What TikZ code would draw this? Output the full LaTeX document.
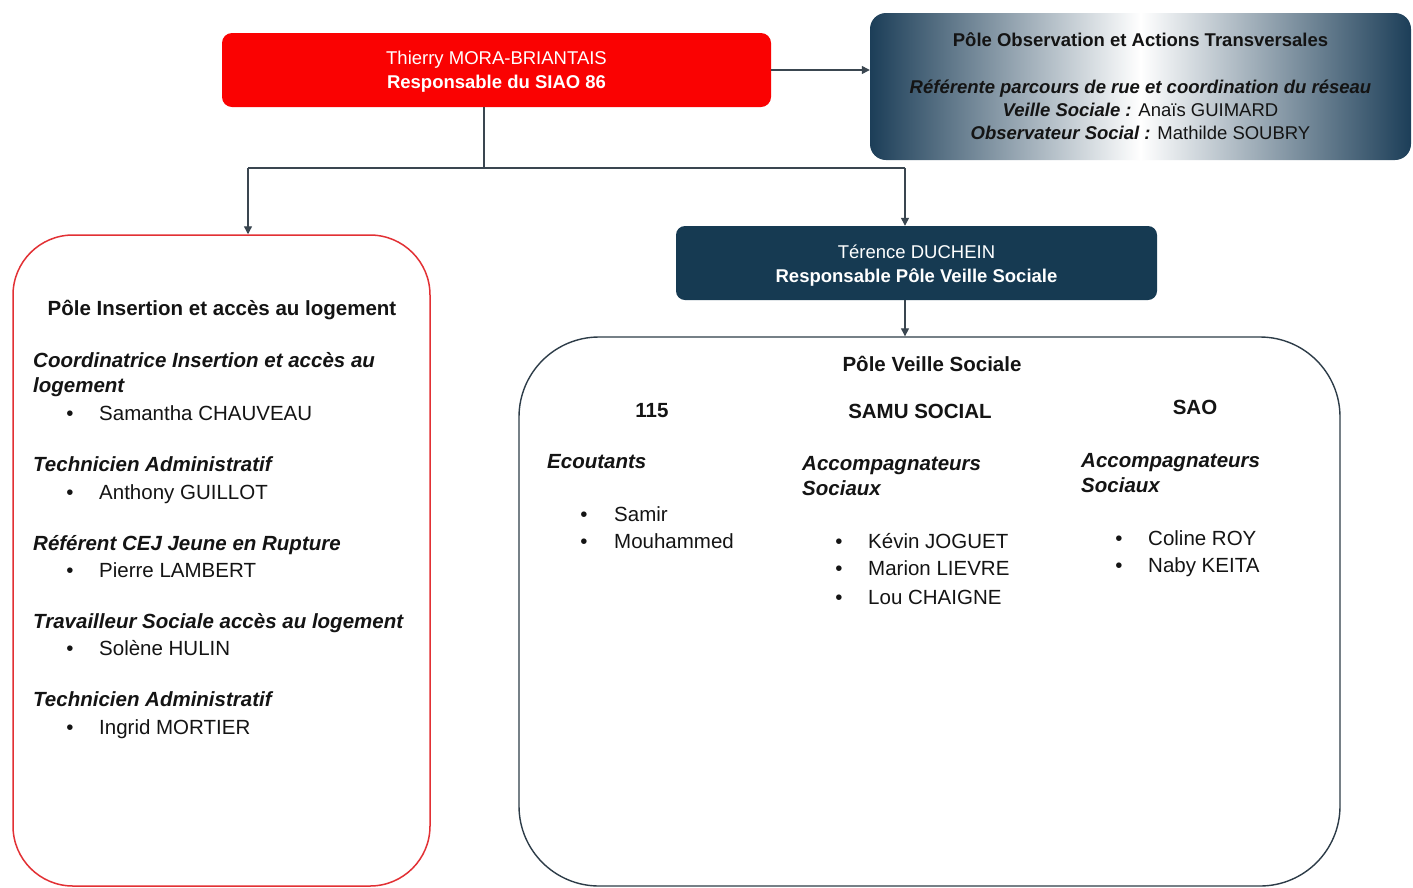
\documentclass[tikz,border=0pt]{standalone}
\usepackage{fontspec}
\setmainfont{Liberation Sans}
\usetikzlibrary{arrows.meta}
\definecolor{siaored}{RGB}{250,2,2}
\definecolor{navy}{RGB}{22,58,82}
\definecolor{gradnavy}{RGB}{28,62,88}
\definecolor{conn}{RGB}{58,70,80}
\definecolor{ink}{RGB}{20,20,20}
\definecolor{boxred}{RGB}{226,48,52}
\definecolor{boxgray}{RGB}{45,60,72}
\tikzset{
  conline/.style={draw=conn, line width=1.3pt},
  conarrow/.style={conline, -{Triangle[length=8pt,width=8pt]}},
  headbox/.style={rounded corners=10pt, inner sep=0pt, align=center, text=white,
    font=\fontsize{18.5}{24}\selectfont},
  txt/.style={inner sep=0pt, text=ink, font=\fontsize{20.5}{26}\selectfont},
  lbl/.style={txt, anchor=base west, font=\fontsize{20.5}{26}\selectfont\bfseries\itshape},
  ttl/.style={txt, anchor=base, font=\fontsize{20.5}{26}\selectfont\bfseries},
  nm/.style={txt, anchor=base west},
  bul/.style={txt, anchor=base}
}
\begin{document}
\begin{tikzpicture}[x=1pt,y=-1pt]
\useasboundingbox[fill=white] (0,0) rectangle (1413,887);

% top boxes
\node[headbox, fill=siaored, minimum width=549pt, minimum height=74pt] (chef) at (496.5,70)
  {\rule{0pt}{17.5pt}Thierry MORA-BRIANTAIS\\\bfseries Responsable du SIAO 86};
\node[rounded corners=16pt, inner sep=0pt, align=center, text=ink,
  left color=gradnavy, right color=gradnavy, middle color=white,
  minimum width=541pt, minimum height=147pt,
  font=\fontsize{18.5}{23.3}\selectfont] (obs) at (1140.5,86.5)
  {\bfseries P\^ole Observation et Actions Transversales\\[23.3pt]
   \bfseries\itshape Référente parcours de rue et coordination du réseau\\
   {\bfseries\itshape Veille Sociale :} Anaïs GUIMARD\\
   {\bfseries\itshape Observateur Social :} Mathilde SOUBRY};
\node[headbox, fill=navy, rounded corners=9pt, minimum width=481pt, minimum height=74pt] (ter) at (916.5,263)
  {\rule{0pt}{18pt}Térence DUCHEIN\\\bfseries Responsable Pôle Veille Sociale};

% big boxes
\node[draw=boxred, line width=1.5pt, rounded corners=60pt, minimum width=417pt, minimum height=651pt, inner sep=0pt] (ins) at (221.5,560.5) {};
\node[draw=boxgray, line width=1.4pt, rounded corners=80pt, minimum width=821pt, minimum height=549pt, inner sep=0pt] (veil) at (929.5,611.5) {};

% connectors
\coordinate (jn) at (484,168);
\coordinate (jl) at (248,168);
\coordinate (jr) at (905,168);
\draw[conarrow] (chef.east) -- (chef.east -| obs.west);
\draw[conline] (jn |- chef.south) -- (jn);
\draw[conline] (jl) -- (jr);
\draw[conarrow] (jl) -- (jl |- ins.north);
\draw[conarrow] (jr) -- (jr |- ter.north);
\draw[conarrow] (jr |- ter.south) -- (jr |- veil.north);

% left box text
\node[ttl] (t1) at (222,315) {Pôle Insertion et accès au logement};
\node[lbl] (l1a) at (33,367) {Coordinatrice Insertion et accès au};
\node[lbl] (l1b) at (33,392) {logement};
\node[bul] (b1) at (70,420) {•}; \node[nm] (n1) at (99,420) {Samantha CHAUVEAU};
\node[lbl] (l2) at (33,471) {Technicien Administratif};
\node[bul] (b2) at (70,499) {•}; \node[nm] (n2) at (99,499) {Anthony GUILLOT};
\node[lbl] (l3) at (33,550) {Référent CEJ Jeune en Rupture};
\node[bul] (b3) at (70,577) {•}; \node[nm] (n3) at (99,577) {Pierre LAMBERT};
\node[lbl] (l4) at (33,628) {Travailleur Sociale accès au logement};
\node[bul] (b4) at (70,655) {•}; \node[nm] (n4) at (99,655) {Solène HULIN};
\node[lbl] (l5) at (33,706) {Technicien Administratif};
\node[bul] (b5) at (70,734) {•}; \node[nm] (n5) at (99,734) {Ingrid MORTIER};

% right box text
\node[ttl] (t2) at (932,371) {Pôle Veille Sociale};
\node[ttl] (c1) at (652,417) {115};
\node[ttl] (c2) at (920,418) {SAMU SOCIAL};
\node[ttl] (c3) at (1195,414) {SAO};

\node[lbl] (e1) at (547,468) {Ecoutants};
\node[bul] (eb1) at (584,521) {•}; \node[nm] (en1) at (614,521) {Samir};
\node[bul] (eb2) at (584,548) {•}; \node[nm] (en2) at (614,548) {Mouhammed};

\node[lbl] (s1) at (802,470) {Accompagnateurs};
\node[lbl] (s2) at (802,495) {Sociaux};
\node[bul] (sb1) at (839,548) {•}; \node[nm] (sn1) at (868,548) {Kévin JOGUET};
\node[bul] (sb2) at (839,575) {•}; \node[nm] (sn2) at (868,575) {Marion LIEVRE};
\node[bul] (sb3) at (839,604) {•}; \node[nm] (sn3) at (868,604) {Lou CHAIGNE};

\node[lbl] (a1) at (1081,467) {Accompagnateurs};
\node[lbl] (a2) at (1081,492) {Sociaux};
\node[bul] (ab1) at (1119,545) {•}; \node[nm] (an1) at (1148,545) {Coline ROY};
\node[bul] (ab2) at (1119,572) {•}; \node[nm] (an2) at (1148,572) {Naby KEITA};
\end{tikzpicture}
\end{document}
